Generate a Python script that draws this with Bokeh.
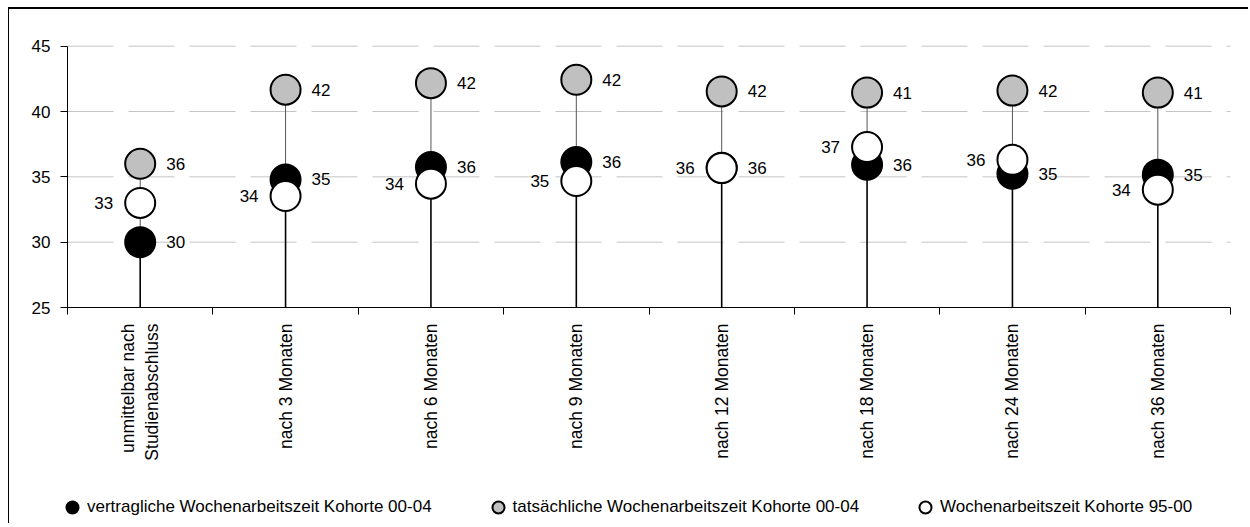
import math
from bokeh.plotting import figure
from bokeh.models import (Range1d, FixedTicker, Legend, LegendItem, ColumnDataSource)
from bokeh.core.properties import value
from bokeh.embed import file_html
from bokeh.resources import INLINE

# ---------------- data ----------------
categories = ["unmittelbar nach\nStudienabschluss", "nach 3 Monaten", "nach 6 Monaten",
              "nach 9 Monaten", "nach 12 Monaten", "nach 18 Monaten",
              "nach 24 Monaten", "nach 36 Monaten"]
vertraglich_00_04 = [30.0, 34.8, 35.75, 36.13, 35.7, 35.93, 35.24, 35.17]
tatsaechlich_00_04 = [36.0, 41.67, 42.17, 42.43, 41.54, 41.45, 41.6, 41.45]
kohorte_95_00 = [33.0, 33.53, 34.48, 34.68, 35.67, 37.28, 36.3, 34.02]
y_ticks = [25, 30, 35, 40, 45]
series_names = ["vertragliche Wochenarbeitszeit Kohorte 00-04",
                "tatsächliche Wochenarbeitszeit Kohorte 00-04",
                "Wochenarbeitszeit Kohorte 95-00"]

FONT = "Liberation Sans"
y_lo, y_hi = y_ticks[0], y_ticks[-1]
n = len(categories)
xc = [i + 0.5 for i in range(n)]        # category centres on the index scale
edges = list(range(n + 1))              # category boundaries

# ---------------- layout (pixels) ----------------
W, H = 1240, 516                 # canvas size; canvas starts at page (9, 9)
ox, oy = 9, 9
px_left, px_right = 67, 1230     # plot area edges on the page
py_top, py_bottom = 45.7, 307    # y_hi / y_lo on the page
kx = (px_right - px_left) / n
ky = (py_bottom - py_top) / (y_hi - y_lo)
x_start = 0 - (px_left - ox) / kx
x_end = n + (ox + W - px_right) / kx
y_end = y_hi + (py_top - oy) / ky
y_start = y_lo - (oy + H - py_bottom) / ky

p = figure(x_range=Range1d(x_start, x_end), y_range=Range1d(y_start, y_end),
           width=W, height=H, output_backend="svg", toolbar_location=None,
           min_border=0, min_border_left=0, min_border_right=0,
           min_border_top=0, min_border_bottom=0)
p.styles = {"margin-left": "8px", "margin-top": "7px",
            "border-left": "1px solid black", "border-top": "2px solid black"}
p.outline_line_color = None
p.background_fill_color = "white"
p.border_fill_color = "white"
p.xgrid.grid_line_color = None
p.ygrid.grid_line_color = None
p.xgrid.visible = False
p.ygrid.visible = False

# dashed horizontal gridlines across the plot area
grid_y = [t for t in y_ticks if t != y_lo]
p.segment(x0=[0] * len(grid_y), y0=grid_y, x1=[n] * len(grid_y), y1=grid_y,
          line_color="#c4c4c4", line_width=1, line_dash="46 15")

# stems
low = [min(a, b) for a, b in zip(vertraglich_00_04, kohorte_95_00)]
stem_src = ColumnDataSource(dict(x=xc, base=[y_lo] * n, low=low, top=tatsaechlich_00_04))
p.segment(x0="x", y0="low", x1="x", y1="top", source=stem_src, line_color="#555555", line_width=1)
p.segment(x0="x", y0="base", x1="x", y1="low", source=stem_src, line_color="black", line_width=1.6)

def lbl(vals):
    return [f"{v:.0f}" for v in vals]

src_g = ColumnDataSource(dict(x=xc, y=tatsaechlich_00_04, t=lbl(tatsaechlich_00_04)))
src_b = ColumnDataSource(dict(x=xc, y=vertraglich_00_04, t=lbl(vertraglich_00_04)))
src_w = ColumnDataSource(dict(x=xc, y=kohorte_95_00, t=lbl(kohorte_95_00)))

r_g = p.scatter("x", "y", source=src_g, size=30, fill_color="#c0c0c0", line_color="black", line_width=2)
r_b = p.scatter("x", "y", source=src_b, size=30, fill_color="black", line_color="black", line_width=2)
r_w = p.scatter("x", "y", source=src_w, size=30, fill_color="white", line_color="black", line_width=2)

for src, off, align in [(src_g, 26, "left"), (src_b, 26, "left"), (src_w, -27, "right")]:
    p.text("x", "y", text="t", source=src, x_offset=off, text_align=align,
           text_baseline="middle", text_font=value(FONT), text_font_size="17px",
           text_color="black")

# y axis, pinned at the left edge of the category area
ya = p.yaxis[0]
ya.fixed_location = 0
ya.bounds = (y_lo, y_hi)
ya.ticker = FixedTicker(ticks=y_ticks, minor_ticks=[])
ya.major_tick_in = 0
ya.major_tick_out = 7
ya.major_label_standoff = 10
ya.axis_line_color = "black"
ya.major_tick_line_color = "black"
ya.major_label_text_font = FONT
ya.major_label_text_font_size = "17px"
ya.major_label_text_color = "black"

# x axis, pinned at y = 25
xa = p.xaxis[0]
xa.fixed_location = y_lo
xa.bounds = (0, n)
xa.ticker = FixedTicker(ticks=xc, minor_ticks=edges)
xa.major_label_overrides = {c: lab for c, lab in zip(xc, categories)}
xa.axis_line_color = "black"
xa.major_tick_out = 0
xa.major_tick_in = 0
xa.minor_tick_out = 7
xa.minor_tick_in = 0
xa.minor_tick_line_color = "black"
xa.major_label_orientation = math.pi / 2
xa.major_label_standoff = 9
xa.major_label_text_font = FONT
xa.major_label_text_font_size = "17.5px"
xa.major_label_text_color = "black"

legend = Legend(items=[LegendItem(label=series_names[0], renderers=[r_b]),
                       LegendItem(label=series_names[1], renderers=[r_g]),
                       LegendItem(label=series_names[2], renderers=[r_w])],
                orientation="horizontal", location=(48, 3),
                glyph_width=30, glyph_height=30, label_standoff=0, spacing=51,
                padding=0, margin=0, border_line_color=None, background_fill_alpha=0,
                label_text_font=FONT, label_text_font_size="17px", label_text_color="black")
p.add_layout(legend, "center")

open("out.html", "w").write(file_html(p, INLINE))
